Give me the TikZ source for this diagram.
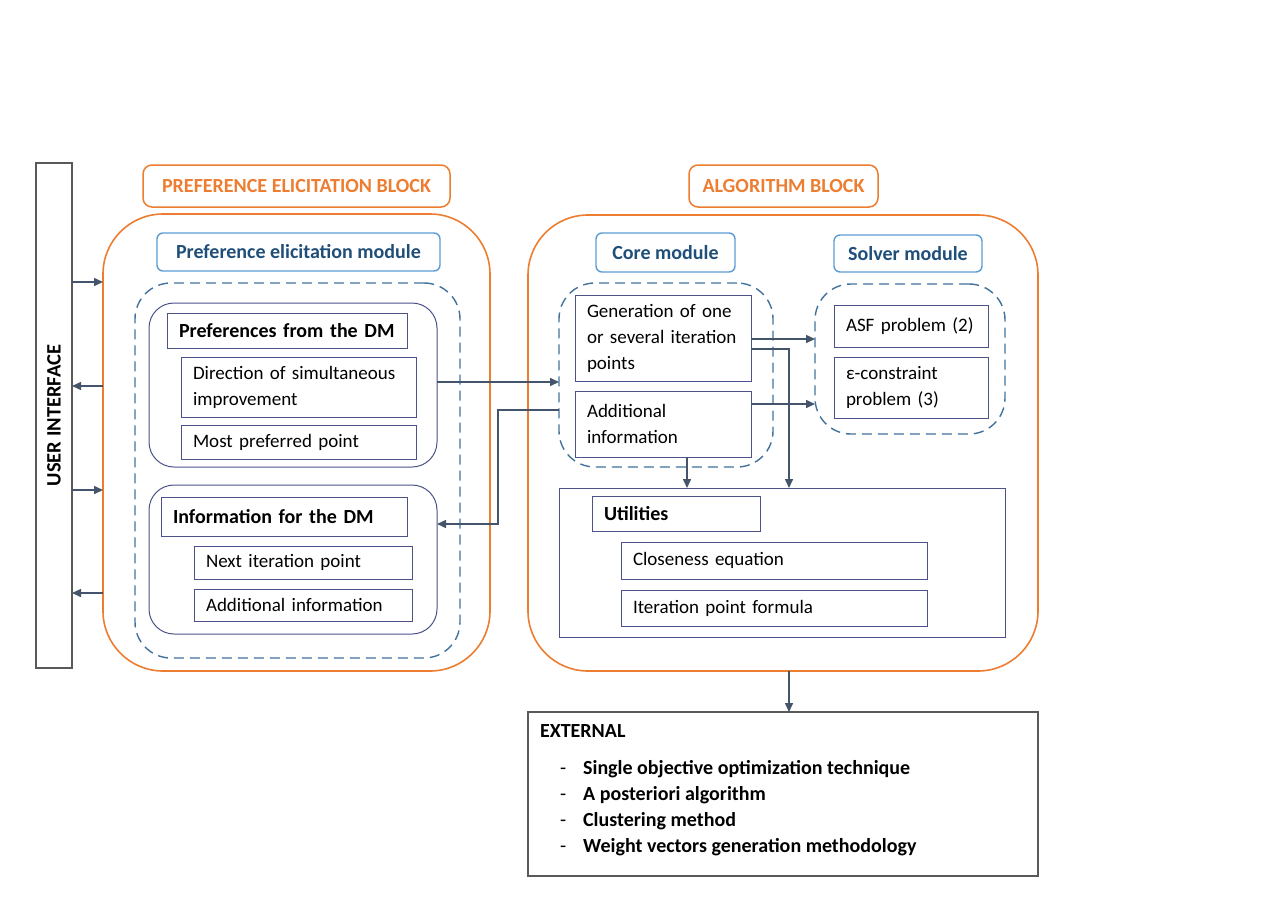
\documentclass[tikz,border=0pt]{standalone}
\usepackage{fontspec}
\setmainfont{Carlito}
\usetikzlibrary{arrows.meta,calc}
\definecolor{org}{HTML}{ED7D31}
\definecolor{modc}{HTML}{5B9BD5}
\definecolor{modt}{HTML}{1F4E79}
\definecolor{dshc}{HTML}{41719C}
\definecolor{bxc}{HTML}{4A5288}
\definecolor{arc}{HTML}{44546A}
\definecolor{gryc}{HTML}{595959}
\begin{document}
\begin{tikzpicture}[x=1pt,y=-1pt,
  font=\fontsize{19}{26}\selectfont,
  every node/.style={outer sep=0pt},
  bfont/.style={font=\fontsize{20}{26}\selectfont\bfseries},
  box/.style={draw=bxc, line width=1pt, anchor=north west, inner xsep=12pt, inner ysep=0pt, align=left},
  grp/.style={draw=bxc, line width=1pt, rounded corners=25pt, anchor=north west},
  dsh/.style={draw=dshc, dash pattern=on 10pt off 6pt, line width=1.4pt, rounded corners=36pt, anchor=north west},
  orgblk/.style={draw=org, line width=1.6pt, rounded corners=60pt, anchor=north west},
  lbl/.style={draw=org, line width=1.5pt, rounded corners=9pt, text=org, bfont, anchor=north west},
  modbox/.style={draw=modc, line width=1.4pt, rounded corners=6pt, text=modt, bfont, anchor=north west},
  arr/.style={draw=arc, line width=1.5pt, -{Triangle[length=9pt,width=8pt]}}
]
\useasboundingbox (0,0) rectangle (1280,905);

% user interface
\node[draw=gryc, line width=1.1pt, anchor=north west, minimum width=36pt, minimum height=505pt] (ui) at (36,163) {};
\node[rotate=90, font=\fontsize{20.5}{26}\selectfont\bfseries] (uit) at (ui.center) {USER INTERFACE};

% left block
\node[lbl, minimum width=307pt, minimum height=42pt] (peb) at (143,165) {PREFERENCE ELICITATION BLOCK};
\node[orgblk, minimum width=387pt, minimum height=457pt] (oleft) at (103,214) {};
\node[modbox, minimum width=283pt, minimum height=38pt] (pem) at (157,233) {Preference elicitation module};
\node[dsh, minimum width=325pt, minimum height=375pt] (dleft) at (135,283) {};
\node[grp, minimum width=288pt, minimum height=164pt] (pref) at (149,303) {};
\node[box, text width=216pt, minimum height=35pt, bfont] (preft) at (167,313) {Preferences from the DM};
\node[box, text width=211pt, minimum height=60pt] (dir) at (181,357) {\mbox{Direction of simultaneous}\\improvement};
\node[box, text width=211pt, minimum height=34pt] (most) at (181,425) {Most preferred point};
\node[grp, minimum width=288pt, minimum height=149pt] (info) at (149,485) {};
\node[box, text width=222pt, minimum height=39pt, bfont] (infot) at (161,497) {Information for the DM};
\node[box, text width=194pt, minimum height=33pt] (next) at (194,546) {Next iteration point};
\node[box, text width=194pt, minimum height=32pt] (addl) at (194,589) {Additional information};

% right block
\node[lbl, minimum width=189pt, minimum height=42pt] (ab) at (689,165) {ALGORITHM BLOCK};
\node[orgblk, minimum width=510pt, minimum height=456pt] (oright) at (528,215) {};
\node[modbox, minimum width=139pt, minimum height=39pt] (coremod) at (596,233) {Core module};
\node[modbox, minimum width=148pt, minimum height=37pt] (solvmod) at (834,235) {Solver module};
\node[dsh, minimum width=214pt, minimum height=184pt] (dcore) at (559,283) {};
\node[box, text width=152pt, minimum height=86pt] (gen) at (575,295) {\mbox{Generation of one}\\\mbox{or several iteration}\\points};
\node[box, text width=152pt, minimum height=66pt] (addr) at (575,391) {Additional\\information};
\node[dsh, minimum width=190pt, minimum height=150pt] (dsolv) at (815,284) {};
\node[box, text width=130pt, minimum height=42pt] (asf) at (834,305) {ASF problem (2)};
\node[box, text width=130pt, minimum height=61pt] (eps) at (834,357) {ε-constraint\\problem (3)};
\node[box, minimum width=446pt, minimum height=149pt] (util) at (559,488) {};
\node[box, text width=144pt, minimum height=35pt, bfont] (utilt) at (592,496) {Utilities};
\node[box, text width=282pt, minimum height=37pt] (close) at (621,542) {Closeness equation};
\node[box, text width=282pt, minimum height=36pt] (iter) at (621,590) {Iteration point formula};

% external
\node[draw=gryc, line width=1.1pt, anchor=north west, minimum width=510pt, minimum height=164pt] (ext) at (528,712) {};
\node[anchor=base west, bfont, inner sep=0pt] (extt) at ($(ext.north west)+(12,25)$) {EXTERNAL};
\node[anchor=base west, align=left, inner sep=0pt, font=\fontsize{20}{25.7}\selectfont] (extl) at ($(ext.north west)+(32,140)$)
  {-\hspace{17pt}\textbf{Single objective optimization technique}\\
   -\hspace{17pt}\textbf{A posteriori algorithm}\\
   -\hspace{17pt}\textbf{Clustering method}\\
   -\hspace{17pt}\textbf{Weight vectors generation methodology}};

% UI arrows
\draw[arr] (ui.east |- 0,282) -- (oleft.west |- 0,282);
\draw[arr] (oleft.west |- 0,386) -- (ui.east |- 0,386);
\draw[arr] (ui.east |- 0,490) -- (oleft.west |- 0,490);
\draw[arr] (oleft.west |- 0,593) -- (ui.east |- 0,593);

% connectors
\draw[arr] (pref.east |- 0,382) -- (dcore.west |- 0,382);
\draw[arr] (dcore.west |- 0,410) -| (498,524) -- (info.east |- 0,524);
\draw[arr] (gen.east |- 0,339) -- (dsolv.west |- 0,339);
\draw[arr] (gen.east |- 0,349) -| (util.north -| 789,0);
\draw[arr] (addr.east |- 0,404) -- (dsolv.west |- 0,404);
\draw[arr] (addr.south -| 687,0) -- (util.north -| 687,0);
\draw[arr] (oright.south -| 789,0) -- (ext.north -| 789,0);
\end{tikzpicture}
\end{document}
